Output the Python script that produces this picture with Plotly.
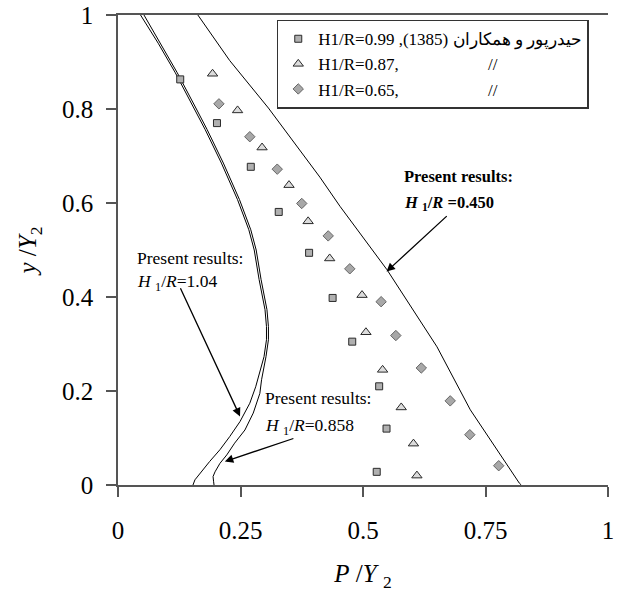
import plotly.graph_objects as go

# Measured data (Heydarpour et al., 1385) for three H1/R ratios
sq_x = [0.127, 0.202, 0.271, 0.328, 0.390, 0.438, 0.478, 0.533, 0.548, 0.528]
sq_y = [0.863, 0.770, 0.677, 0.581, 0.494, 0.398, 0.305, 0.210, 0.120, 0.028]

tri_x = [0.193, 0.244, 0.294, 0.349, 0.388, 0.432, 0.498, 0.506, 0.540, 0.578, 0.603, 0.610]
tri_y = [0.875, 0.797, 0.718, 0.638, 0.561, 0.482, 0.404, 0.325, 0.245, 0.165, 0.088, 0.020]

dia_x = [0.206, 0.269, 0.325, 0.375, 0.429, 0.473, 0.537, 0.567, 0.619, 0.678, 0.718, 0.777]
dia_y = [0.811, 0.741, 0.672, 0.599, 0.530, 0.460, 0.390, 0.318, 0.249, 0.179, 0.107, 0.041]

# Computed profiles (present results)
c104_x = [0.046, 0.082, 0.117, 0.156, 0.178, 0.211, 0.244, 0.267, 0.278, 0.288, 0.295,
          0.300, 0.303, 0.303, 0.298, 0.291, 0.285, 0.281, 0.269, 0.249, 0.228, 0.208,
          0.187, 0.170, 0.157, 0.153]
c104_y = [1.000, 0.940, 0.877, 0.800, 0.756, 0.685, 0.607, 0.543, 0.500, 0.437, 0.401,
          0.373, 0.337, 0.309, 0.273, 0.245, 0.224, 0.209, 0.174, 0.135, 0.103, 0.075,
          0.050, 0.028, 0.011, 0.000]

c0858_x = [0.053, 0.087, 0.121, 0.160, 0.182, 0.215, 0.248, 0.271, 0.282, 0.292, 0.299,
           0.304, 0.307, 0.307, 0.302, 0.296, 0.293, 0.2895, 0.276, 0.259, 0.238, 0.222,
           0.208, 0.198, 0.194, 0.195, 0.196]
c0858_y = [1.000, 0.940, 0.877, 0.800, 0.756, 0.685, 0.607, 0.543, 0.500, 0.437, 0.401,
           0.373, 0.337, 0.309, 0.273, 0.245, 0.224, 0.195, 0.153, 0.117, 0.089, 0.064,
           0.046, 0.028, 0.018, 0.008, 0.000]

c0450_x = [0.163, 0.228, 0.307, 0.412, 0.453, 0.549, 0.651, 0.719, 0.819, 0.823]
c0450_y = [1.000, 0.903, 0.802, 0.655, 0.593, 0.458, 0.294, 0.160, 0.004, 0.000]

x_ticks = [0, 0.25, 0.5, 0.75, 1]
x_ticktext = ["0", "0.25", "0.5", "0.75", "1"]
y_ticks = [0, 0.2, 0.4, 0.6, 0.8, 1]
y_ticktext = ["0", "0.2", "0.4", "0.6", "0.8", "1"]

NB = "\u00a0"
name_sq = "H1/R=0.99 ,(1385) حیدرپور و همکاران"
name_tri = "H1/R=0.87," + NB * 21 + "//"
name_dia = "H1/R=0.65," + NB * 21 + "//"

SERIF = "Liberation Serif"

fig = go.Figure()

for cx, cy in [(c104_x, c104_y), (c0858_x, c0858_y), (c0450_x, c0450_y)]:
    fig.add_trace(go.Scatter(x=cx, y=cy, mode="lines", showlegend=False,
                             line=dict(color="black", width=1), hoverinfo="skip"))

fig.add_trace(go.Scatter(x=sq_x, y=sq_y, mode="markers", name=name_sq,
                         marker=dict(symbol="square", size=7, color="#b0b0b0",
                                     line=dict(color="#2a2a2a", width=1))))
fig.add_trace(go.Scatter(x=tri_x, y=tri_y, mode="markers", name=name_tri,
                         marker=dict(symbol="triangle-up", size=9, color="#dcdcdc",
                                     line=dict(color="#2a2a2a", width=1))))
fig.add_trace(go.Scatter(x=dia_x, y=dia_y, mode="markers", name=name_dia,
                         marker=dict(symbol="diamond", size=8, color="#a8a8a8",
                                     line=dict(color="#666666", width=1))))

axis_common = dict(range=[0, 1], showgrid=False, zeroline=False, showline=True,
                   linecolor="#555555", linewidth=1.5, ticks="outside", ticklen=10,
                   tickwidth=1.5, tickcolor="#555555", automargin=False,
                   tickfont=dict(family=SERIF, size=25, color="black"))

fig.update_xaxes(**axis_common, tickvals=x_ticks, ticktext=x_ticktext, mirror=True,
                 ticklabelstandoff=12,
                 title=dict(text="<i>P</i> /<i>Y</i> <sub>2</sub>", standoff=22,
                            font=dict(family=SERIF, size=25, color="black")))
fig.update_yaxes(**axis_common, tickvals=y_ticks, ticktext=y_ticktext,
                 ticklabelstandoff=8,
                 title=dict(text="<i>y</i> /<i>Y</i><sub>2</sub>", standoff=18,
                            font=dict(family=SERIF, size=25, color="black")))

annotations = []
txt = dict(xref="x", yref="y", showarrow=False, xanchor="left", yanchor="middle",
           font=dict(family=SERIF, size=17.5, color="black"))
annotations.append(dict(text="Present results:", x=0.034, y=0.484, **txt))
annotations.append(dict(text="<i>H</i> <sub>1</sub>/<i>R</i>=1.04", x=0.034, y=0.430, **txt))
annotations.append(dict(text="Present results:", x=0.296, y=0.185, **txt))
annotations.append(dict(text="<i>H</i> <sub>1</sub>/<i>R</i>=0.858", x=0.296, y=0.124, **txt))
bold = dict(txt)
bold["font"] = dict(family=SERIF, size=16.5, color="black")
annotations.append(dict(text="<b>Present results:</b>", x=0.579, y=0.657, **bold))
annotations.append(dict(text="<b><i>H</i> <sub>1</sub>/<i>R</i> =0.450</b>", x=0.579, y=0.599, **bold))

arrow = dict(xref="x", yref="y", axref="x", ayref="y", text="", showarrow=True,
             arrowhead=2, arrowsize=1.3, arrowwidth=1.3, arrowcolor="black")
annotations.append(dict(x=0.249, y=0.146, ax=0.126, ay=0.422, **arrow))
annotations.append(dict(x=0.218, y=0.050, ax=0.361, ay=0.100, **arrow))
annotations.append(dict(x=0.548, y=0.454, ax=0.674, ay=0.575, **arrow))

fig.update_layout(
    template="none",
    width=622, height=594,
    margin=dict(l=118, r=14, t=15, b=109),
    plot_bgcolor="white", paper_bgcolor="white",
    font=dict(family=SERIF, color="black"),
    annotations=annotations,
    legend=dict(x=0.324, y=0.99, xanchor="left", yanchor="top",
                bordercolor="#333333", borderwidth=1.5, bgcolor="white",
                font=dict(family=SERIF, size=17, color="black"),
                tracegroupgap=0),
)

fig.write_html("out.html")
